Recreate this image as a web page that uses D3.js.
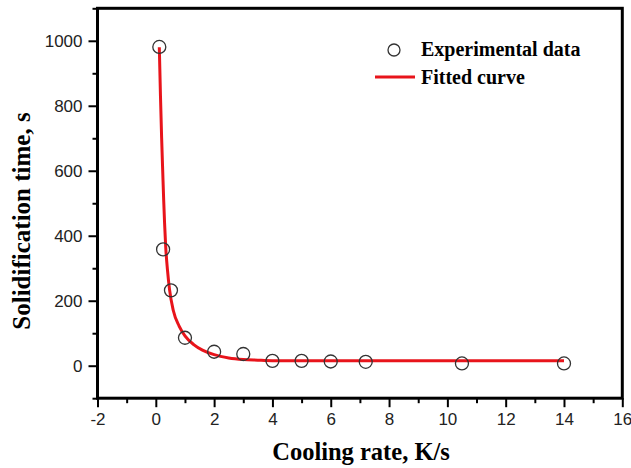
<!DOCTYPE html>
<html>
<head>
<meta charset="utf-8">
<script src="https://cdn.jsdelivr.net/npm/d3@7"></script>
<style>
  body { margin: 0; background: #fff; }
  svg { display: block; }
</style>
</head>
<body>
<div id="chart"></div>
<script>
// experimental points (cooling rate K/s, solidification time s)
const expX = [0.12, 0.25, 0.52, 1.0, 2.0, 3.0, 4.0, 5.0, 6.0, 7.2, 10.5, 14.0];
const expY = [981, 358, 232, 86, 43, 36, 15, 15, 13, 12, 7, 7];

// fitted curve
const fitX = [0.12, 0.16, 0.2, 0.24, 0.27, 0.3, 0.34, 0.4, 0.47, 0.6, 0.8, 1.0, 1.3, 1.6, 2.0, 2.5, 3.0, 3.5, 4.0, 5.0, 7.0, 10.0, 14.0];
const fitY = [980, 830, 700, 590, 510, 440, 365, 295, 235, 170, 122, 92, 65, 48, 34, 24, 19, 17, 15.5, 15, 15, 15, 15];

const xMajor = [-2, 0, 2, 4, 6, 8, 10, 12, 14, 16];
const xMinor = [-1, 1, 3, 5, 7, 9, 11, 13, 15];
const yMajor = [0, 200, 400, 600, 800, 1000];
const yMinor = [-100, 100, 300, 500, 700, 900, 1100];

const width = 631, height = 468;
const svg = d3.select("#chart").append("svg")
    .attr("width", width)
    .attr("height", height);

const x = d3.scaleLinear().domain([-2, 16]).range([97.5, 622.3]);
const y = d3.scaleLinear().domain([-100, 1100]).range([398.2, 8.3]);

const tickFont = "'Liberation Sans', Arial, sans-serif";
const titleFont = "'Liberation Serif', 'Times New Roman', serif";
const fmt = d => String(d); // plain hyphen for negatives

// minor ticks
svg.append("g")
    .attr("transform", `translate(0,${y(-100)})`)
    .call(d3.axisBottom(x).tickValues(xMinor).tickSize(5).tickFormat(""))
    .call(g => g.select(".domain").remove())
    .call(g => g.selectAll("line").attr("stroke", "#000").attr("stroke-width", 2));
svg.append("g")
    .attr("transform", `translate(${x(-2)},0)`)
    .call(d3.axisLeft(y).tickValues(yMinor).tickSize(5).tickFormat(""))
    .call(g => g.select(".domain").remove())
    .call(g => g.selectAll("line").attr("stroke", "#000").attr("stroke-width", 2));

// major ticks + labels
svg.append("g")
    .attr("transform", `translate(0,${y(-100)})`)
    .call(d3.axisBottom(x).tickValues(xMajor).tickSize(9).tickPadding(6).tickFormat(fmt))
    .call(g => g.select(".domain").remove())
    .call(g => g.selectAll("line").attr("stroke", "#000").attr("stroke-width", 2))
    .call(g => g.selectAll("text").attr("font-family", tickFont).attr("font-size", 17).attr("fill", "#222"));
svg.append("g")
    .attr("transform", `translate(${x(-2)},0)`)
    .call(d3.axisLeft(y).tickValues(yMajor).tickSize(9).tickPadding(6).tickFormat(fmt))
    .call(g => g.select(".domain").remove())
    .call(g => g.selectAll("line").attr("stroke", "#000").attr("stroke-width", 2))
    .call(g => g.selectAll("text").attr("font-family", tickFont).attr("font-size", 17).attr("fill", "#222"));

// frame
svg.append("rect")
    .attr("x", x(-2))
    .attr("y", y(1100))
    .attr("width", x(16) - x(-2))
    .attr("height", y(-100) - y(1100))
    .attr("fill", "none")
    .attr("stroke", "#000")
    .attr("stroke-width", 3);

// fitted curve
const fit = fitX.map((d, i) => [d, fitY[i]]);
svg.append("path")
    .datum(fit)
    .attr("fill", "none")
    .attr("stroke", "#e8141b")
    .attr("stroke-width", 3)
    .attr("d", d3.line().x(d => x(d[0])).y(d => y(d[1])).curve(d3.curveMonotoneX));

// experimental points
svg.append("g")
    .selectAll("circle")
    .data(expX.map((d, i) => [d, expY[i]]))
    .join("circle")
    .attr("cx", d => x(d[0]))
    .attr("cy", d => y(d[1]))
    .attr("r", 6.5)
    .attr("fill", "none")
    .attr("stroke", "#333")
    .attr("stroke-width", 1.3);

// axis titles
svg.append("text")
    .attr("x", 361)
    .attr("y", 460)
    .attr("text-anchor", "middle")
    .attr("font-family", titleFont)
    .attr("font-weight", "bold")
    .attr("font-size", 24.5)
    .text("Cooling rate, K/s");
svg.append("text")
    .attr("transform", "translate(30,221) rotate(-90)")
    .attr("text-anchor", "middle")
    .attr("font-family", titleFont)
    .attr("font-weight", "bold")
    .attr("font-size", 25)
    .text("Solidification time, s");

// legend
const legend = svg.append("g").attr("font-family", titleFont).attr("font-weight", "bold").attr("font-size", 20);
legend.append("circle")
    .attr("cx", 394).attr("cy", 50).attr("r", 6)
    .attr("fill", "none").attr("stroke", "#333").attr("stroke-width", 1.3);
legend.append("text").attr("x", 421).attr("y", 56).text("Experimental data");
legend.append("line")
    .attr("x1", 375).attr("x2", 415).attr("y1", 77).attr("y2", 77)
    .attr("stroke", "#e8141b").attr("stroke-width", 3);
legend.append("text").attr("x", 421).attr("y", 84).text("Fitted curve");
</script>
</body>
</html>
